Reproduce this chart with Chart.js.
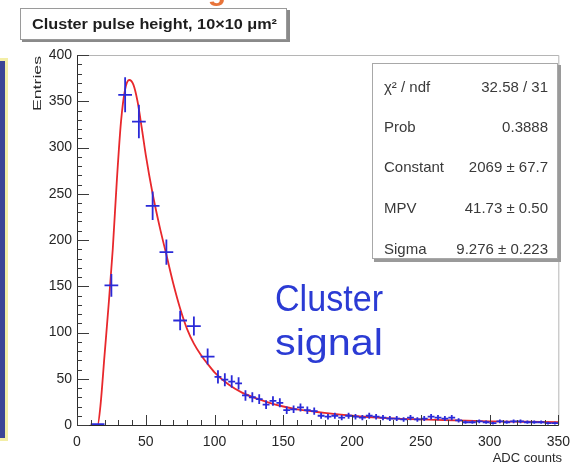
<!DOCTYPE html>
<html>
<head>
<meta charset="utf-8">
<script src="https://cdn.jsdelivr.net/npm/chart.js@4.4.1/dist/chart.umd.min.js"></script>
<style>
    html, body { margin: 0; padding: 0; background: #fff; }
    #wrap { position: relative; width: 579px; height: 462px; overflow: hidden; }
    canvas { display: block; }
</style>
</head>
<body>
<div id="wrap"><canvas id="pulseChart" width="579" height="462"></canvas></div>
<script>
// histogram bins (centre, half width, entries)
const binCentres = [15, 25, 35, 45, 55, 65, 75, 85, 95,
    102.5, 107.5, 112.5, 117.5, 122.5, 127.5, 132.5, 137.5, 142.5, 147.5,
    152.5, 157.5, 162.5, 167.5, 172.5, 177.5, 182.5, 187.5, 192.5, 197.5,
    202.5, 207.5, 212.5, 217.5, 222.5, 227.5, 232.5, 237.5, 242.5, 247.5,
    252.5, 257.5, 262.5, 267.5, 272.5, 277.5, 282.5, 287.5, 292.5, 297.5,
    302.5, 307.5, 312.5, 317.5, 322.5, 327.5, 332.5, 337.5, 342.5, 347.5];
const binHalfWidths = [5, 5, 5, 5, 5, 5, 5, 5, 5,
    2.5, 2.5, 2.5, 2.5, 2.5, 2.5, 2.5, 2.5, 2.5, 2.5,
    2.5, 2.5, 2.5, 2.5, 2.5, 2.5, 2.5, 2.5, 2.5, 2.5,
    2.5, 2.5, 2.5, 2.5, 2.5, 2.5, 2.5, 2.5, 2.5, 2.5,
    2.5, 2.5, 2.5, 2.5, 2.5, 2.5, 2.5, 2.5, 2.5, 2.5,
    2.5, 2.5, 2.5, 2.5, 2.5, 2.5, 2.5, 2.5, 2.5, 2.5];
const binEntries = [1, 151, 357, 328, 237, 187, 113, 107, 74,
    52, 49, 47, 45, 32, 30, 28, 22, 26, 24,
    16, 17, 19, 16, 15, 10, 9, 10, 8, 10,
    9, 8, 10, 9, 8, 7, 7, 6, 8, 6,
    7, 9, 8, 7, 8, 5, 3, 3, 4, 3,
    2, 4, 3, 4, 4, 3, 3, 3, 2, 2];

// Landau fit, sampled along x
const fitX = [10, 15, 17, 20, 23, 26, 29, 32, 35, 38, 41, 44, 47, 50, 55, 60, 65, 70, 75, 80,
    85, 90, 95, 100, 110, 120, 130, 140, 150, 160, 170, 180, 200, 225, 250, 275, 300, 325, 350];
const fitY = [0, 0, 20, 75, 130, 190, 265, 328, 363, 373, 368, 350, 322, 292, 250, 215, 184, 153, 126, 104,
    88, 76, 66, 57, 44, 35, 29, 24, 20, 17, 15, 13, 10, 7.5, 6, 5, 4, 3.5, 3];

const xTicks = [0, 50, 100, 150, 200, 250, 300, 350];
const yTicks = [0, 50, 100, 150, 200, 250, 300, 350, 400];

const statNames = ['\u03c7\u00b2 / ndf', 'Prob', 'Constant', 'MPV', 'Sigma'];
const statValues = ['32.58 / 31', '0.3888', '2069 \u00b1 67.7', '41.73 \u00b1 0.50', '9.276 \u00b1 0.223'];

const titleText = 'Cluster pulse height, 10\u00d710 \u03bcm\u00b2';
const signalLines = ['Cluster', 'signal'];

const FONT = '"Liberation Sans", Arial, sans-serif';

function fitText(ctx, text, x, y, width) {
    const w = ctx.measureText(text).width;
    ctx.save();
    ctx.translate(x, y);
    ctx.scale(width / w, 1);
    ctx.fillText(text, 0, 0);
    ctx.restore();
}

const rootStyle = {
    id: 'rootStyle',
    beforeDraw(chart) {
        const ctx = chart.ctx;
        ctx.save();
        ctx.fillStyle = '#ffffff';
        ctx.fillRect(0, 0, chart.width, chart.height);

        // side bar of the slide
        ctx.fillStyle = '#f3eea6';
        ctx.fillRect(0, 58, 8, 383);
        ctx.fillStyle = '#3c4596';
        ctx.fillRect(0, 61, 5, 377);

        // descender of the slide heading
        ctx.fillStyle = '#e8743a';
        ctx.font = 'bold 30px ' + FONT;
        ctx.textAlign = 'center';
        ctx.textBaseline = 'alphabetic';
        ctx.fillText('g', 217, 0);

        // title box
        ctx.fillStyle = '#8a8a8a';
        ctx.fillRect(22, 10, 268, 32);
        ctx.fillStyle = '#ffffff';
        ctx.fillRect(21, 9, 265, 30);
        ctx.strokeStyle = '#9a9a9a';
        ctx.lineWidth = 1;
        ctx.strokeRect(20.5, 8.5, 266, 31);
        ctx.fillStyle = '#1e1e1e';
        ctx.font = 'bold 14px ' + FONT;
        ctx.textAlign = 'left';
        ctx.textBaseline = 'middle';
        fitText(ctx, titleText, 32, 25, 245);
        ctx.restore();
    },
    afterDatasetsDraw(chart) {
        const ctx = chart.ctx;
        const xs = chart.scales.x;
        const ys = chart.scales.y;
        const a = chart.chartArea;
        ctx.save();

        // error crosses
        ctx.strokeStyle = '#2a2ad8';
        ctx.lineWidth = 1.8;
        binCentres.forEach((c, i) => {
            const n = binEntries[i];
            const err = Math.sqrt(n);
            const px = xs.getPixelForValue(c);
            const py = ys.getPixelForValue(n);
            ctx.beginPath();
            ctx.moveTo(xs.getPixelForValue(c - binHalfWidths[i]), py);
            ctx.lineTo(xs.getPixelForValue(c + binHalfWidths[i]), py);
            ctx.moveTo(px, ys.getPixelForValue(Math.max(n - err, 0)));
            ctx.lineTo(px, ys.getPixelForValue(n + err));
            ctx.stroke();
        });

        // frame
        ctx.lineWidth = 1;
        ctx.strokeStyle = '#b5b5b5';
        ctx.beginPath();
        ctx.moveTo(a.left, a.top + 0.5);
        ctx.lineTo(a.right + 0.5, a.top + 0.5);
        ctx.lineTo(a.right + 0.5, a.bottom);
        ctx.stroke();
        ctx.strokeStyle = '#2a2a2a';
        ctx.beginPath();
        ctx.moveTo(a.left + 0.5, a.top);
        ctx.lineTo(a.left + 0.5, a.bottom + 0.5);
        ctx.lineTo(a.right + 0.5, a.bottom + 0.5);
        ctx.stroke();

        // tick marks drawn inside the frame
        ctx.strokeStyle = '#3a3a3a';
        ctx.beginPath();
        for (let v = 0; v <= 400; v += 10) {
            const py = Math.round(ys.getPixelForValue(v)) + 0.5;
            const len = v % 50 === 0 ? 12 : 5;
            ctx.moveTo(a.left, py);
            ctx.lineTo(a.left + len, py);
        }
        for (let v = 0; v <= 350; v += 10) {
            const px = Math.round(xs.getPixelForValue(v)) + 0.5;
            const len = v % 50 === 0 ? 10 : 5;
            ctx.moveTo(px, a.bottom);
            ctx.lineTo(px, a.bottom - len);
        }
        ctx.stroke();

        // axis titles
        ctx.fillStyle = '#2a2a2a';
        ctx.font = '11px ' + FONT;
        ctx.save();
        ctx.translate(38, 56);
        ctx.rotate(-Math.PI / 2);
        ctx.textAlign = 'right';
        ctx.textBaseline = 'middle';
        const ew = ctx.measureText('Entries').width;
        ctx.scale(55 / ew, 1);
        ctx.fillText('Entries', 0, 0);
        ctx.restore();

        ctx.font = '13px ' + FONT;
        ctx.textAlign = 'right';
        ctx.textBaseline = 'top';
        ctx.fillText('ADC counts', 562, 452);

        // fit statistics box
        ctx.fillStyle = '#9a9a9a';
        ctx.fillRect(374, 65, 187, 197);
        ctx.fillStyle = '#ffffff';
        ctx.fillRect(372, 63, 186, 196);
        ctx.strokeStyle = '#a8a8a8';
        ctx.strokeRect(372.5, 63.5, 185, 195);
        ctx.fillStyle = '#3a3a3a';
        ctx.font = '15px ' + FONT;
        ctx.textBaseline = 'middle';
        const rowY = [88, 128, 168, 209, 250];
        statNames.forEach((name, i) => {
            ctx.textAlign = 'left';
            ctx.fillText(name, 384, rowY[i]);
            ctx.textAlign = 'right';
            ctx.fillText(statValues[i], 548, rowY[i]);
        });

        // annotation
        ctx.fillStyle = '#2b3bd4';
        ctx.font = '36px ' + FONT;
        ctx.textAlign = 'left';
        ctx.textBaseline = 'alphabetic';
        fitText(ctx, signalLines[0], 275, 311, 108);
        fitText(ctx, signalLines[1], 275, 355, 108);
        ctx.restore();
    }
};

const histPoints = binCentres.map((c, i) => ({ x: c, y: binEntries[i] }));
const fitPoints = fitX.map((x, i) => ({ x: x, y: fitY[i] }));

const tickFont = { family: FONT, size: 14 };

new Chart(document.getElementById('pulseChart'), {
    type: 'scatter',
    data: {
        datasets: [
            {
                label: 'fit',
                data: fitPoints,
                showLine: true,
                borderColor: '#e8282c',
                borderWidth: 1.8,
                pointRadius: 0,
                cubicInterpolationMode: 'monotone',
                order: 2
            },
            {
                label: 'entries',
                data: histPoints,
                showLine: false,
                pointRadius: 0,
                order: 1
            }
        ]
    },
    options: {
        responsive: false,
        animation: false,
        devicePixelRatio: 1,
        layout: { padding: { left: 0, top: 55, right: 16, bottom: 0 } },
        plugins: {
            legend: { display: false },
            tooltip: { enabled: false }
        },
        scales: {
            x: {
                type: 'linear',
                min: 0,
                max: 350,
                afterFit: s => { s.height = 37; },
                afterBuildTicks: s => { s.ticks = xTicks.map(v => ({ value: v })); },
                grid: { display: false, drawTicks: false },
                border: { display: false },
                ticks: { color: '#262626', font: tickFont, padding: 9, maxRotation: 0, autoSkip: false }
            },
            y: {
                type: 'linear',
                min: 0,
                max: 400,
                afterFit: s => { s.width = 77; },
                afterBuildTicks: s => { s.ticks = yTicks.map(v => ({ value: v })); },
                grid: { display: false, drawTicks: false },
                border: { display: false },
                ticks: { color: '#262626', font: tickFont, padding: 5, autoSkip: false }
            }
        }
    },
    plugins: [rootStyle]
});
</script>
</body>
</html>
